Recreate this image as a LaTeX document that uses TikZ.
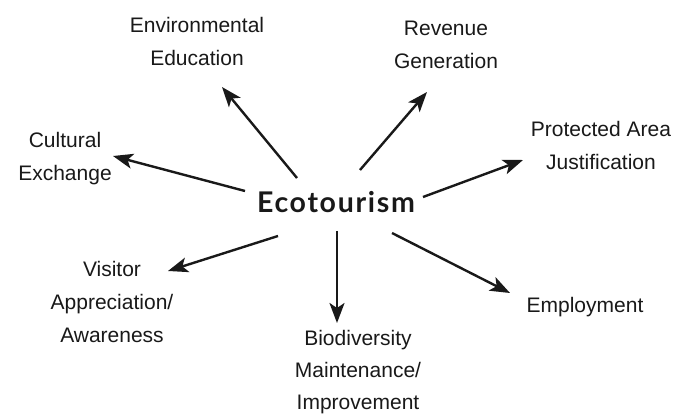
\documentclass[tikz,border=0pt]{standalone}
\usepackage{fontspec}
\setmainfont{Liberation Sans}
\newfontfamily\ecofont[LetterSpace=6]{Lato}
\usetikzlibrary{arrows.meta}
\begin{document}
\begin{tikzpicture}[x=1pt,y=-1pt,
  lbl/.style={align=center,inner sep=0pt,text=black!90,font=\fontsize{21}{33}\selectfont},
  arr/.style={line width=2.4pt,draw=black!90,-{Stealth[length=20pt,width=15pt,inset=5pt]}}]
\useasboundingbox[fill=white] (0,0) rectangle (680,414);
\node[inner sep=0pt,font=\ecofont\bfseries\fontsize{28.5}{30}\selectfont,text=black!90] (eco) at (336,202) {Ecotourism};
\node[lbl] (env) at (197,41) {Environmental\\Education};
\node[lbl] (rev) at (446,45) {Revenue\\Generation};
\node[lbl] (pro) at (601,145) {Protected Area\\Justification};
\node[lbl] (cul) at (65,159) {Cultural\\Exchange};
\node[lbl] (vis) at (112,302) {Visitor\\Appreciation/\\Awareness};
\node[lbl,font=\fontsize{21}{32}\selectfont] (bio) at (358,372) {Biodiversity\\Maintenance/\\Improvement};
\node[lbl] (emp) at (585,307) {Employment};
\coordinate (t1) at (297,178); \coordinate (h1) at (222,87);
\coordinate (t2) at (360,170); \coordinate (h2) at (427,92);
\coordinate (t3) at (423,197); \coordinate (h3) at (523,160);
\coordinate (t4) at (245,191); \coordinate (h4) at (113,156);
\coordinate (t5) at (278,236); \coordinate (h5) at (168,271);
\coordinate (t6) at (337,231); \coordinate (h6) at (337,323);
\coordinate (t7) at (392,233); \coordinate (h7) at (510,293);
\draw[arr] (t1) -- (h1);
\draw[arr] (t2) -- (h2);
\draw[arr] (t3) -- (h3);
\draw[arr] (t4) -- (h4);
\draw[arr] (t5) -- (h5);
\draw[arr] (t6) -- (h6);
\draw[arr] (t7) -- (h7);
\end{tikzpicture}
\end{document}
